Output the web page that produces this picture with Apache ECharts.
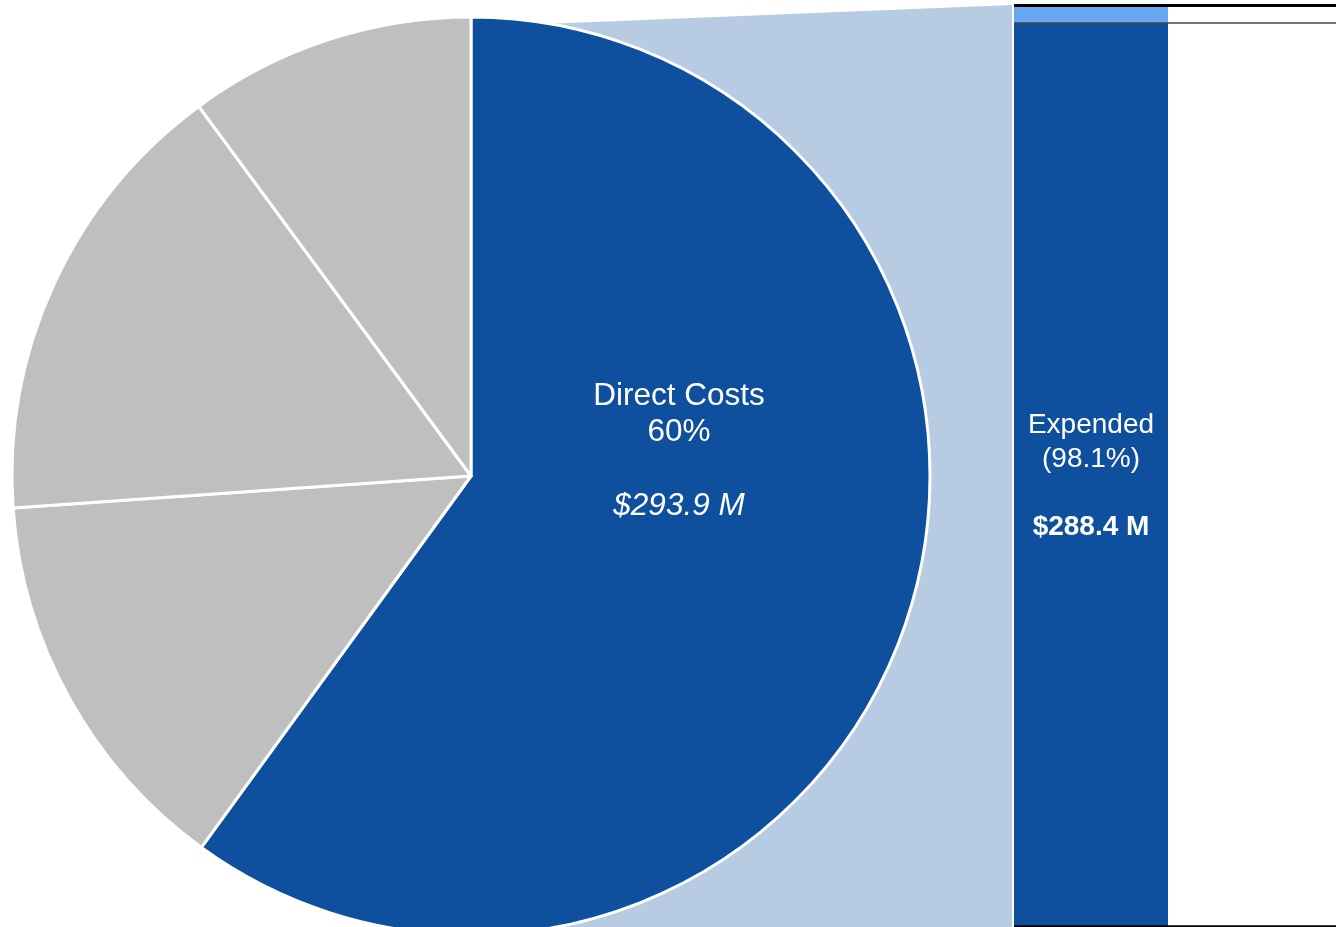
<!DOCTYPE html>
<html>
<head>
<meta charset="utf-8">
<script src="https://cdn.jsdelivr.net/npm/echarts@6/dist/echarts.min.js"></script>
<style>
html,body{margin:0;padding:0;background:#fff;}
#chart{width:1336px;height:927px;}
</style>
</head>
<body>
<div id="chart"></div>
<script>
// Pie data (millions of $), clockwise from 12 o'clock
const pieNames = ['Direct Costs', 'Category B', 'Category C', 'Category D'];
const pieValues = [293.9, 68.1, 78.4, 49.5];
// Breakdown bar of Direct Costs
const barCategories = ['Direct Costs'];
const expendedValues = [288.4];
const remainingValues = [5.5];

const DARK = '#0E4F9E';
const GREY = '#BFBFBF';
const LIGHT = '#B7CBE2';
const BRIGHT = '#66A6F2';
const FONT = '"Liberation Sans", Arial, sans-serif';

const total = expendedValues[0] + remainingValues[0];
const chart = echarts.init(document.getElementById('chart'));

const pieData = pieNames.map((n, i) => ({
  name: n,
  value: pieValues[i],
  itemStyle: { color: i === 0 ? DARK : GREY },
  label: { show: i === 0 }
}));

chart.setOption({
  animation: false,
  backgroundColor: '#fff',
  graphic: [{
    type: 'polygon',
    z: -10,
    shape: { points: [[471, 27], [1012, 5], [1012, 927], [471, 927]] },
    style: { fill: LIGHT }
  }],
  grid: { left: 1014, right: 0, top: 5.5, bottom: 1 },
  xAxis: { type: 'category', data: barCategories, show: false },
  yAxis: { type: 'value', min: 0, max: total, show: false },
  series: [
    {
      type: 'pie',
      center: [471, 476],
      radius: 459,
      startAngle: 90,
      clockwise: true,
      z: 5,
      itemStyle: { borderColor: '#fff', borderWidth: 3 },
      label: {
        position: 'inside',
        color: '#fff',
        fontFamily: FONT,
        formatter: p => '{a|' + p.name + '}\n{a|' + Math.round(p.percent) + '%}\n{a| }\n{i|$' + p.value.toFixed(1) + ' M}',
        rich: {
          a: { fontSize: 31.5, lineHeight: 36.5, color: '#fff', fontFamily: FONT, align: 'center' },
          i: { fontSize: 31.5, lineHeight: 36.5, color: '#fff', fontFamily: FONT, fontStyle: 'italic', align: 'center' }
        }
      },
      labelLine: { show: false },
      labelLayout: p => p.dataIndex === 0 ? { x: 679, y: 451, align: 'center', verticalAlign: 'middle' } : {},
      emphasis: { disabled: true },
      data: pieData
    },
    {
      name: 'Expended',
      type: 'bar',
      stack: 'dc',
      barWidth: 154,
      barGap: '9.09%',
      itemStyle: { color: DARK },
      label: {
        show: true,
        position: 'inside',
        offset: [0, 2],
        color: '#fff',
        fontFamily: FONT,
        formatter: p => '{a|Expended}\n{a|(' + (p.value / total * 100).toFixed(1) + '%)}\n{a| }\n{b|$' + p.value.toFixed(1) + ' M}',
        rich: {
          a: { fontSize: 28, lineHeight: 34, color: '#fff', fontFamily: FONT, align: 'center' },
          b: { fontSize: 28, lineHeight: 34, color: '#fff', fontFamily: FONT, fontWeight: 'bold', align: 'center' }
        }
      },
      markLine: {
        silent: true,
        symbol: 'none',
        label: { show: false },
        data: [
          { yAxis: total, lineStyle: { color: '#000', width: 3, type: 'solid' } },
          { yAxis: expendedValues[0], lineStyle: { color: '#444', width: 1.5, type: 'solid' } },
          { yAxis: 0, lineStyle: { color: '#000', width: 2.5, type: 'solid' } }
        ]
      },
      data: expendedValues
    },
    {
      name: 'Remaining',
      type: 'bar',
      stack: 'dc',
      barWidth: 154,
      barGap: '9.09%',
      itemStyle: { color: BRIGHT },
      data: remainingValues
    },
    {
      name: 'pad',
      type: 'bar',
      stack: 'pad',
      barWidth: 154,
      barGap: '9.09%',
      itemStyle: { color: 'rgba(0,0,0,0)' },
      silent: true,
      data: [0]
    }
  ]
});
</script>
</body>
</html>
